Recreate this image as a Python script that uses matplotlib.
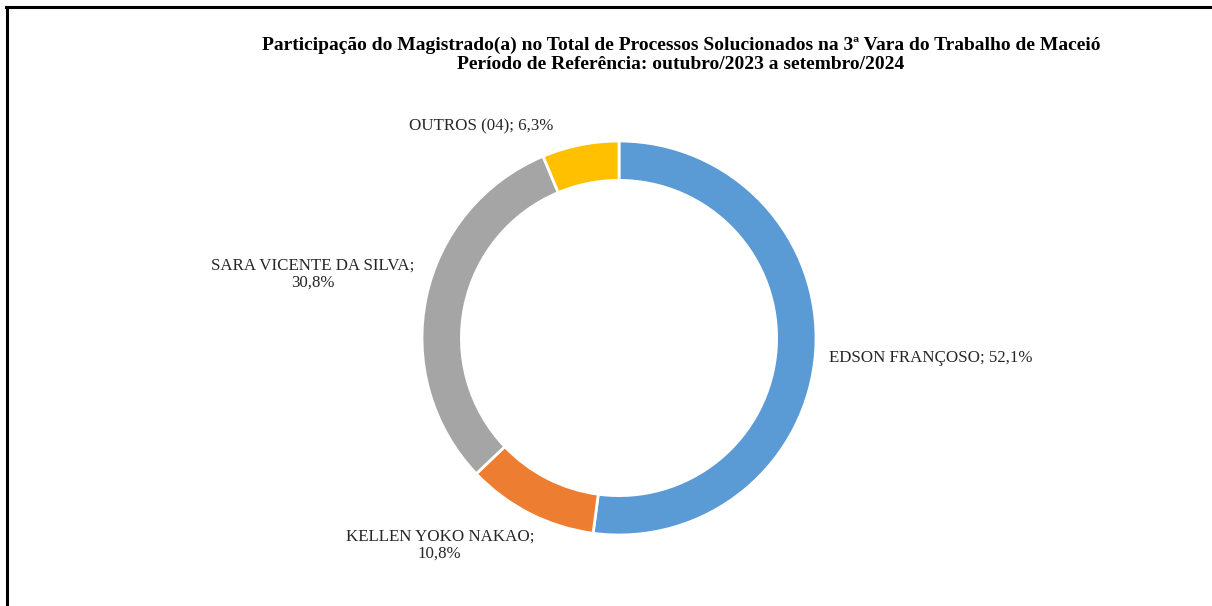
import matplotlib
matplotlib.use("Agg")
import matplotlib.pyplot as plt
from matplotlib.lines import Line2D

# dados
nomes = ["EDSON FRANÇOSO", "KELLEN YOKO NAKAO", "SARA VICENTE DA SILVA", "OUTROS (04)"]
percentuais = [52.1, 10.8, 30.8, 6.3]
cores = ["#5B9BD5", "#ED7D31", "#A5A5A5", "#FFC000"]

titulo = ("Participação do Magistrado(a) no Total de Processos Solucionados na 3ª Vara do Trabalho de Maceió\n"
          "Período de Referência: outubro/2023 a setembro/2024")

# posicao dos rotulos (coordenadas do eixo da rosca, raio = 1)
pos_rotulos = [(1.066, -0.10, "left"), (-0.91, -1.05, "center"),
               (-1.553, 0.325, "center"), (-0.70, 1.076, "center")]
quebra = [False, True, True, False]

plt.rcParams["font.family"] = ["Liberation Serif", "DejaVu Serif"]

fig = plt.figure(figsize=(12.12, 6.06), dpi=100)
W, H = 1212, 606
cx, cy, R = 619, 338, 197
ax = fig.add_axes([(cx - R) / W, (H - cy - R) / H, 2 * R / W, 2 * R / H])
ax.pie(percentuais, colors=cores, startangle=90, counterclock=False,
       radius=1, wedgeprops=dict(width=0.2, edgecolor="white", linewidth=2))
ax.set_xlim(-1, 1)
ax.set_ylim(-1, 1)
ax.set_aspect("equal")
ax.axis("off")

for nome, p, (x, y, ha), q in zip(nomes, percentuais, pos_rotulos, quebra):
    valor = f"{p:.1f}%".replace(".", ",")
    sep = ";\n" if q else "; "
    ax.text(x, y, nome + sep + valor, ha=ha, va="center", fontsize=12.2,
            color="#262626", clip_on=False, linespacing=1.1)

fig.text(681 / W, 1 - 55 / H, titulo, ha="center", va="center",
         fontsize=14, fontweight="bold", color="black", linespacing=1.12)

# moldura
fig.add_artist(Line2D([6.5 / W, 6.5 / W], [0, 1 - 6.5 / H], transform=fig.transFigure,
                      color="black", linewidth=2.2))
fig.add_artist(Line2D([5.5 / W, 1], [1 - 6.5 / H, 1 - 6.5 / H], transform=fig.transFigure,
                      color="black", linewidth=2.2))

fig.savefig("out.png", dpi=100)
